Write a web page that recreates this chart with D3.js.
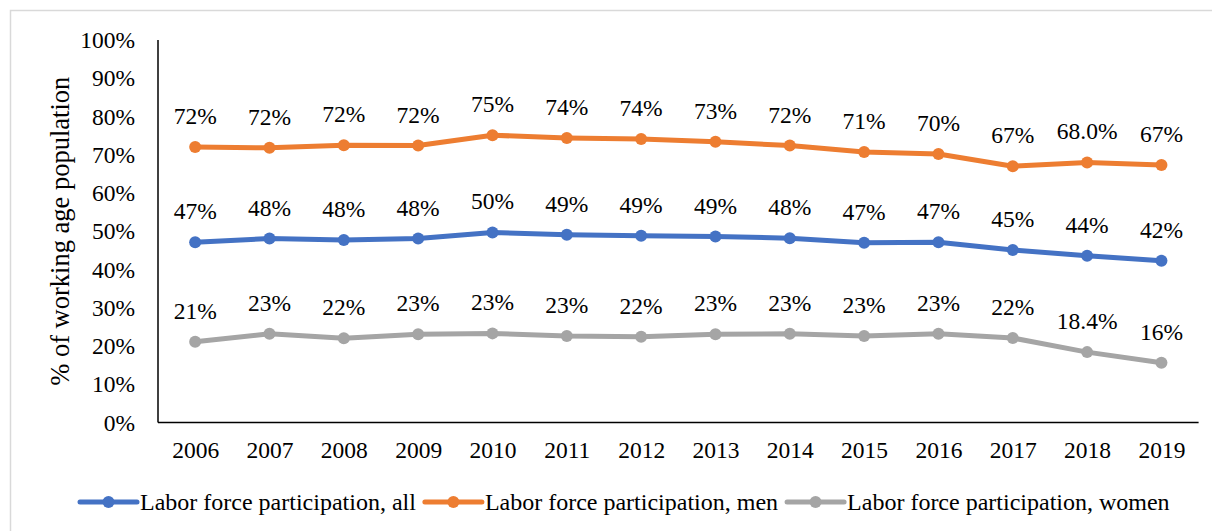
<!DOCTYPE html>
<html>
<head>
<meta charset="utf-8">
<script src="https://cdn.jsdelivr.net/npm/d3@7"></script>
<style>
  html, body { margin: 0; padding: 0; background: #fff; }
  svg { display: block; font-family: "Liberation Serif", "Times New Roman", serif; }
</style>
</head>
<body>
<svg id="chart" width="1212" height="531"></svg>
<script>
const years = ['2006', '2007', '2008', '2009', '2010', '2011', '2012', '2013', '2014', '2015', '2016', '2017', '2018', '2019'];

const allValues = [47.1, 48.1, 47.7, 48.1, 49.7, 49.1, 48.8, 48.6, 48.2, 47.0, 47.1, 45.1, 43.6, 42.3];
const menValues = [72.0, 71.8, 72.5, 72.4, 75.1, 74.4, 74.1, 73.4, 72.4, 70.7, 70.2, 67.0, 68.0, 67.3];
const womenValues = [21.1, 23.2, 22.0, 23.1, 23.3, 22.6, 22.4, 23.1, 23.2, 22.6, 23.2, 22.1, 18.4, 15.6];

const allLabels = ['47%', '48%', '48%', '48%', '50%', '49%', '49%', '49%', '48%', '47%', '47%', '45%', '44%', '42%'];
const menLabels = ['72%', '72%', '72%', '72%', '75%', '74%', '74%', '73%', '72%', '71%', '70%', '67%', '68.0%', '67%'];
const womenLabels = ['21%', '23%', '22%', '23%', '23%', '23%', '22%', '23%', '23%', '23%', '23%', '22%', '18.4%', '16%'];

const yTicks = [0, 10, 20, 30, 40, 50, 60, 70, 80, 90, 100];

const seriesNames = ['Labor force participation, all', 'Labor force participation, men', 'Labor force participation, women'];
const seriesColors = ['#4472C4', '#ED7D31', '#A5A5A5'];

(function () {
  const series = [
    { name: seriesNames[0], color: seriesColors[0], values: allValues, labels: allLabels },
    { name: seriesNames[1], color: seriesColors[1], values: menValues, labels: menLabels },
    { name: seriesNames[2], color: seriesColors[2], values: womenValues, labels: womenLabels }
  ];

  const svg = d3.select('#chart');
  const serif = '"Liberation Serif", "Times New Roman", serif';

  // outer chart frame (runs off the right/bottom edge in the reference)
  svg.append('rect')
    .attr('x', 10.5).attr('y', 10.5)
    .attr('width', 1220).attr('height', 540)
    .attr('fill', 'none')
    .attr('stroke', '#d9d9d9')
    .attr('stroke-width', 1.5);

  const left = 158, right = 1198.6, plotTop = 40, plotBottom = 422.5;

  const x = d3.scalePoint().domain(years).range([left, right]).padding(0.5);
  const y = d3.scaleLinear().domain([0, 100]).range([plotBottom, plotTop]);

  // y tick labels
  const yAxis = d3.axisLeft(y)
    .tickValues(yTicks)
    .tickSize(0)
    .tickPadding(23)
    .tickFormat(d => d + '%');

  svg.append('g')
    .attr('transform', `translate(${left},0)`)
    .call(yAxis)
    .call(g => g.select('.domain').remove())
    .selectAll('text')
    .attr('font-family', serif)
    .attr('font-size', '23.5px')
    .attr('fill', '#000');

  // x tick labels
  const xAxis = d3.axisBottom(x).tickSize(0).tickPadding(19);
  svg.append('g')
    .attr('transform', `translate(0,${plotBottom})`)
    .call(xAxis)
    .call(g => g.select('.domain').remove())
    .selectAll('text')
    .attr('font-family', serif)
    .attr('font-size', '23.5px')
    .attr('fill', '#000');

  // axis lines
  svg.append('line')
    .attr('x1', left).attr('x2', left)
    .attr('y1', plotTop).attr('y2', plotBottom)
    .attr('stroke', '#000').attr('stroke-width', 1.5);
  svg.append('line')
    .attr('x1', left).attr('x2', right)
    .attr('y1', plotBottom).attr('y2', plotBottom)
    .attr('stroke', '#000').attr('stroke-width', 1.5);

  // y title
  svg.append('text')
    .attr('transform', `translate(69,${(plotTop + plotBottom) / 2}) rotate(-90)`)
    .attr('text-anchor', 'middle')
    .attr('font-family', serif)
    .attr('font-size', '26.5px')
    .attr('fill', '#000')
    .text('% of working age population');

  const line = d3.line()
    .x((d, i) => x(years[i]))
    .y(d => y(d));

  series.forEach(s => {
    const g = svg.append('g');
    g.append('path')
      .datum(s.values)
      .attr('d', line)
      .attr('fill', 'none')
      .attr('stroke', s.color)
      .attr('stroke-width', 5)
      .attr('stroke-linejoin', 'round')
      .attr('stroke-linecap', 'round');

    g.selectAll('circle')
      .data(s.values)
      .join('circle')
      .attr('cx', (d, i) => x(years[i]))
      .attr('cy', d => y(d))
      .attr('r', 6)
      .attr('fill', s.color);

    g.selectAll('text')
      .data(s.values)
      .join('text')
      .attr('x', (d, i) => x(years[i]))
      .attr('y', d => y(d) - 23)
      .attr('text-anchor', 'middle')
      .attr('font-family', serif)
      .attr('font-size', '23.5px')
      .attr('fill', '#000')
      .text((d, i) => s.labels[i]);
  });

  // legend
  const legendY = 502;
  let lx = 80;
  series.forEach(s => {
    const item = svg.append('g');
    item.append('line')
      .attr('x1', lx).attr('x2', lx + 57)
      .attr('y1', legendY).attr('y2', legendY)
      .attr('stroke', s.color).attr('stroke-width', 5)
      .attr('stroke-linecap', 'round');
    item.append('circle')
      .attr('cx', lx + 28.5).attr('cy', legendY)
      .attr('r', 6).attr('fill', s.color);
    const t = item.append('text')
      .attr('x', lx + 60).attr('y', legendY + 8)
      .attr('font-family', serif)
      .attr('font-size', '24px')
      .attr('fill', '#000')
      .text(s.name);
    lx += 60 + t.node().getComputedTextLength() + 9;
  });
})();
</script>
</body>
</html>
